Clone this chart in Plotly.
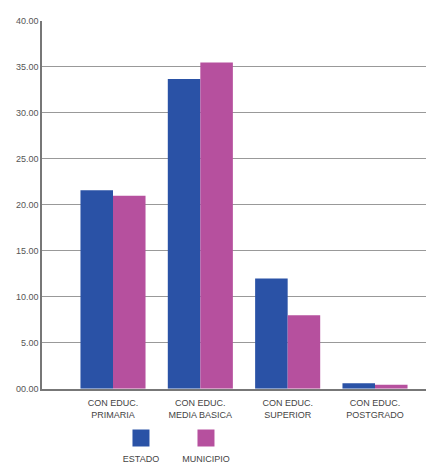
import plotly.graph_objects as go

categories = ["CON EDUC.<br>PRIMARIA", "CON EDUC.<br>MEDIA BASICA", "CON EDUC.<br>SUPERIOR", "CON EDUC.<br>POSTGRADO"]
estado = [21.6, 33.7, 12.0, 0.6]
municipio = [21.0, 35.5, 8.0, 0.45]
series_names = ["ESTADO", "MUNICIPIO"]
series_colors = ["#2A52A6", "#B6509E"]
y_ticks = [0, 5, 10, 15, 20, 25, 30, 35, 40]
y_tick_labels = ["00.00", "5.00", "10.00", "15.00", "20.00", "25.00", "30.00", "35.00", "40.00"]

W, H = 426, 470

fig = go.Figure()
fig.add_trace(go.Bar(x=categories, y=estado, name=series_names[0],
                     marker=dict(color=series_colors[0], line=dict(width=0)),
                     xaxis="x", yaxis="y", showlegend=False))
fig.add_trace(go.Bar(x=categories, y=municipio, name=series_names[1],
                     marker=dict(color=series_colors[1], line=dict(width=0)),
                     xaxis="x", yaxis="y", showlegend=False))

# legend drawn as square markers with their names underneath
fig.add_trace(go.Scatter(x=series_names, y=[0, 0], mode="markers",
                         marker=dict(symbol="square", size=17, color=series_colors),
                         xaxis="x2", yaxis="y2", showlegend=False, hoverinfo="skip"))
fig.add_trace(go.Scatter(x=series_names, y=[-0.30, -0.30], mode="text",
                         text=series_names, textposition="middle center",
                         textfont=dict(size=9, color="#444"),
                         xaxis="x2", yaxis="y2", showlegend=False, hoverinfo="skip"))

fig.update_layout(
    width=W, height=H,
    margin=dict(l=0, r=0, t=21, b=0),
    paper_bgcolor="white", plot_bgcolor="white",
    font=dict(family="Liberation Sans, Arial, sans-serif", size=9, color="#555"),
    barmode="group", bargap=0.255, bargroupgap=0,
    xaxis=dict(domain=[42/W, 1], range=[-0.813, 3.584], showgrid=False,
               showline=True, linecolor="#777", linewidth=1.5,
               tickfont=dict(size=9, color="#444"), ticks="", ticklabelstandoff=5, anchor="y"),
    yaxis=dict(domain=[77/449, 1], range=[0, 40], tickvals=y_ticks, ticktext=y_tick_labels,
               showgrid=True, gridcolor="#999", gridwidth=1,
               showline=True, linecolor="#777", linewidth=1.5,
               tickfont=dict(size=9, color="#555"), ticks="", zeroline=False, anchor="x"),
    xaxis2=dict(domain=[0, 1], range=[-2.169, 4.385], visible=False, anchor="y2", type="category"),
    yaxis2=dict(domain=[0, 0.16], range=[-0.38, 0.62], visible=False, anchor="x2"),
)

fig.write_html("out.html", config={"displayModeBar": False},
               post_script="document.body.style.margin='0';document.body.style.overflow='hidden';")
